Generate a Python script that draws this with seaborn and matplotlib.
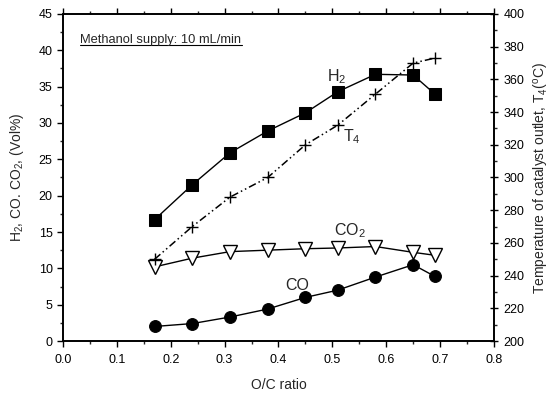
import matplotlib
matplotlib.use("Agg")
import matplotlib.pyplot as plt
import seaborn as sns
import pandas as pd
from matplotlib.ticker import MultipleLocator

sns.set_theme(style="ticks")
plt.rcParams['font.family'] = ['Liberation Sans', 'DejaVu Sans']
plt.rcParams['mathtext.fontset'] = 'custom'
plt.rcParams['mathtext.rm'] = 'Liberation Sans'
plt.rcParams['mathtext.it'] = 'Liberation Sans'

oc_ratio = [0.17, 0.24, 0.31, 0.38, 0.45, 0.51, 0.58, 0.65, 0.69]
h2 = [16.7, 21.5, 25.9, 28.9, 31.4, 34.3, 36.7, 36.6, 34.0]
co2 = [10.2, 11.4, 12.3, 12.5, 12.7, 12.8, 13.0, 12.2, 11.8]
co = [2.0, 2.4, 3.3, 4.4, 6.0, 7.0, 8.8, 10.5, 8.9]
t4 = [250, 270, 288, 300, 320, 332, 351, 370, 373]

df = pd.DataFrame({"oc": oc_ratio, "H2": h2, "CO2": co2, "CO": co, "T4": t4})

fig = plt.figure(figsize=(5.54, 3.94), dpi=100)
ax = fig.add_axes([0.1137, 0.1345, 0.778, 0.830])
ax2 = ax.twinx()

sns.lineplot(data=df, x="oc", y="H2", ax=ax, color="black", lw=1, marker="s",
             markersize=8.5, markerfacecolor="black", markeredgecolor="black")
sns.lineplot(data=df, x="oc", y="CO2", ax=ax, color="black", lw=1, marker="v",
             markersize=9.5, markerfacecolor="white", markeredgecolor="black", markeredgewidth=1)
sns.lineplot(data=df, x="oc", y="CO", ax=ax, color="black", lw=1, marker="o",
             markersize=8.5, markerfacecolor="black", markeredgecolor="black")
sns.lineplot(data=df, x="oc", y="T4", ax=ax2, color="black", lw=1.1, marker="+",
             markersize=9, markeredgewidth=1, markeredgecolor="black", dashes=False)
ax2.lines[0].set_dashes([5, 2, 1, 2, 1, 2])

ax.set_xlim(0, 0.8)
ax.set_ylim(0, 45)
ax2.set_ylim(200, 400)
ax.xaxis.set_major_locator(MultipleLocator(0.1))
ax.xaxis.set_minor_locator(MultipleLocator(0.05))
ax.yaxis.set_major_locator(MultipleLocator(5))
ax.yaxis.set_minor_locator(MultipleLocator(2.5))
ax2.yaxis.set_major_locator(MultipleLocator(20))
ax2.yaxis.set_minor_locator(MultipleLocator(10))

ax.set_xticklabels([f"{v:.1f}" for v in ax.get_xticks()])

for a in (ax, ax2):
    for s in a.spines.values():
        s.set_visible(True)
        s.set_color("black")
        s.set_linewidth(1.2)
ax.tick_params(axis="both", which="major", direction="out", length=4, width=1, labelsize=9, colors="black", top=True)
ax.tick_params(axis="both", which="minor", direction="out", length=2.5, width=1, top=True)
ax.tick_params(axis="x", which="both", top=True, labeltop=False, pad=5)
ax2.tick_params(axis="y", which="major", direction="inout", length=6, width=1, labelsize=9, colors="black", pad=4)
ax2.tick_params(axis="y", which="minor", direction="out", length=2.5, width=1)

ax.set_xlabel("O/C ratio", fontsize=10, labelpad=9)
ax.set_ylabel("H$_2$, CO. CO$_2$, (Vol%)", fontsize=10, labelpad=9)
ax2.set_ylabel("Temperature of catalyst outlet, T$_4$($^o$C)", fontsize=10, labelpad=5)

ax.text(0.49, 35.8, "H$_2$", fontsize=11.5)
ax.text(0.52, 27.5, "T$_4$", fontsize=11.5)
ax.text(0.503, 14.6, "CO$_2$", fontsize=11.5)
ax.text(0.412, 7.0, "CO", fontsize=11.5)
ax.text(0.0316, 41.0, "Methanol supply: 10 mL/min", fontsize=9.3)
ax.plot([0.0316, 0.332], [40.7, 40.7], color="black", lw=0.8)

fig.savefig("out.png", dpi=100)
